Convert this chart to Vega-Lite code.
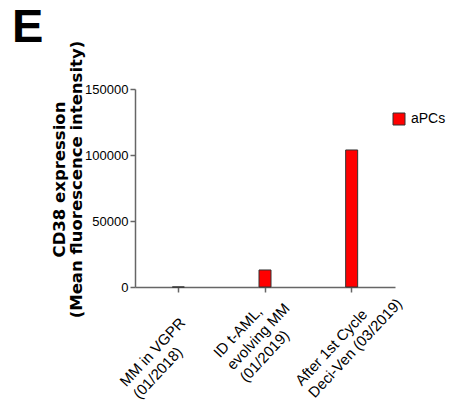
{
  "$schema": "https://vega.github.io/schema/vega-lite/v6.json",
  "autosize": {"type": "none"},
  "padding": {"left": 135, "top": 89, "right": 59, "bottom": 122},
  "width": 260,
  "height": 198,
  "background": "white",
  "title": {"text": "E", "font": "Liberation Sans", "fontSize": 47, "fontWeight": "bold", "color": "black", "anchor": "start", "frame": "group", "orient": "top", "baseline": "alphabetic", "offset": 0, "dx": -123, "dy": 49},
  "data": {"values": [
    {"stage": "MM in VGPR|(01/2018)", "series": "aPCs", "mfi": 0},
    {"stage": "ID t-AML,|evolving MM|(01/2019)", "series": "aPCs", "mfi": 12900},
    {"stage": "After 1st Cycle|Deci-Ven (03/2019)", "series": "aPCs", "mfi": 103800}
  ]},
  "mark": {"type": "bar", "width": 12, "stroke": "#333333", "strokeWidth": 1},
  "encoding": {
    "x": {"field": "stage", "type": "nominal", "sort": null,
      "scale": {"paddingInner": 0, "paddingOuter": 0},
      "axis": {"title": null, "labelExpr": "split(datum.label, '|')", "labelAngle": -47, "labelAlign": "left", "labelBaseline": "alphabetic",
        "labelFont": "Liberation Sans", "labelFontSize": 15, "labelColor": "black", "labelLineHeight": 18,
        "labelOffset": {"condition": [{"test": "indexof(datum.value, 'MM in') == 0", "value": -52}, {"test": "indexof(datum.value, 'ID t') == 0", "value": -45}], "value": -50},
        "labelPadding": {"condition": [{"test": "indexof(datum.value, 'MM in') == 0", "value": 95}, {"test": "indexof(datum.value, 'ID t') == 0", "value": 66}], "value": 94},
        "domainColor": "#666666", "domainWidth": 1.5, "tickColor": "#666666", "tickWidth": 1.5, "tickSize": 5, "grid": false, "labelOverlap": false, "labelBound": false}},
    "y": {"field": "mfi", "type": "quantitative",
      "scale": {"domain": [0, 150000], "nice": false, "zero": true},
      "axis": {"title": ["CD38 expression", "(Mean fluorescence intensity)"], "titleFont": "DejaVu Sans", "titleFontSize": 16.5, "titleFontWeight": "bold", "titleColor": "black", "titleAngle": 270, "titleBaseline": "alphabetic", "titleAlign": "center", "titleX": -71, "titleY": 90, "titleLineHeight": 17,
        "values": [0, 50000, 100000, 150000], "format": "d", "labelFont": "Liberation Sans", "labelFontSize": 13, "labelColor": "black", "labelPadding": 2,
        "domainColor": "#666666", "domainWidth": 1.5, "tickColor": "#666666", "tickWidth": 1.5, "tickSize": 5, "grid": false}},
    "color": {"field": "series", "type": "nominal",
      "scale": {"domain": ["aPCs"], "range": ["#ff0000"]},
      "legend": {"title": null, "orient": "none", "legendX": 257, "legendY": 23, "padding": 0, "symbolType": "square", "symbolSize": 144, "symbolStrokeColor": "#333333", "symbolStrokeWidth": 1, "labelFont": "Liberation Sans", "labelFontSize": 14, "labelColor": "black", "labelOffset": 5}}
  },
  "config": {"view": {"stroke": null}}
}
